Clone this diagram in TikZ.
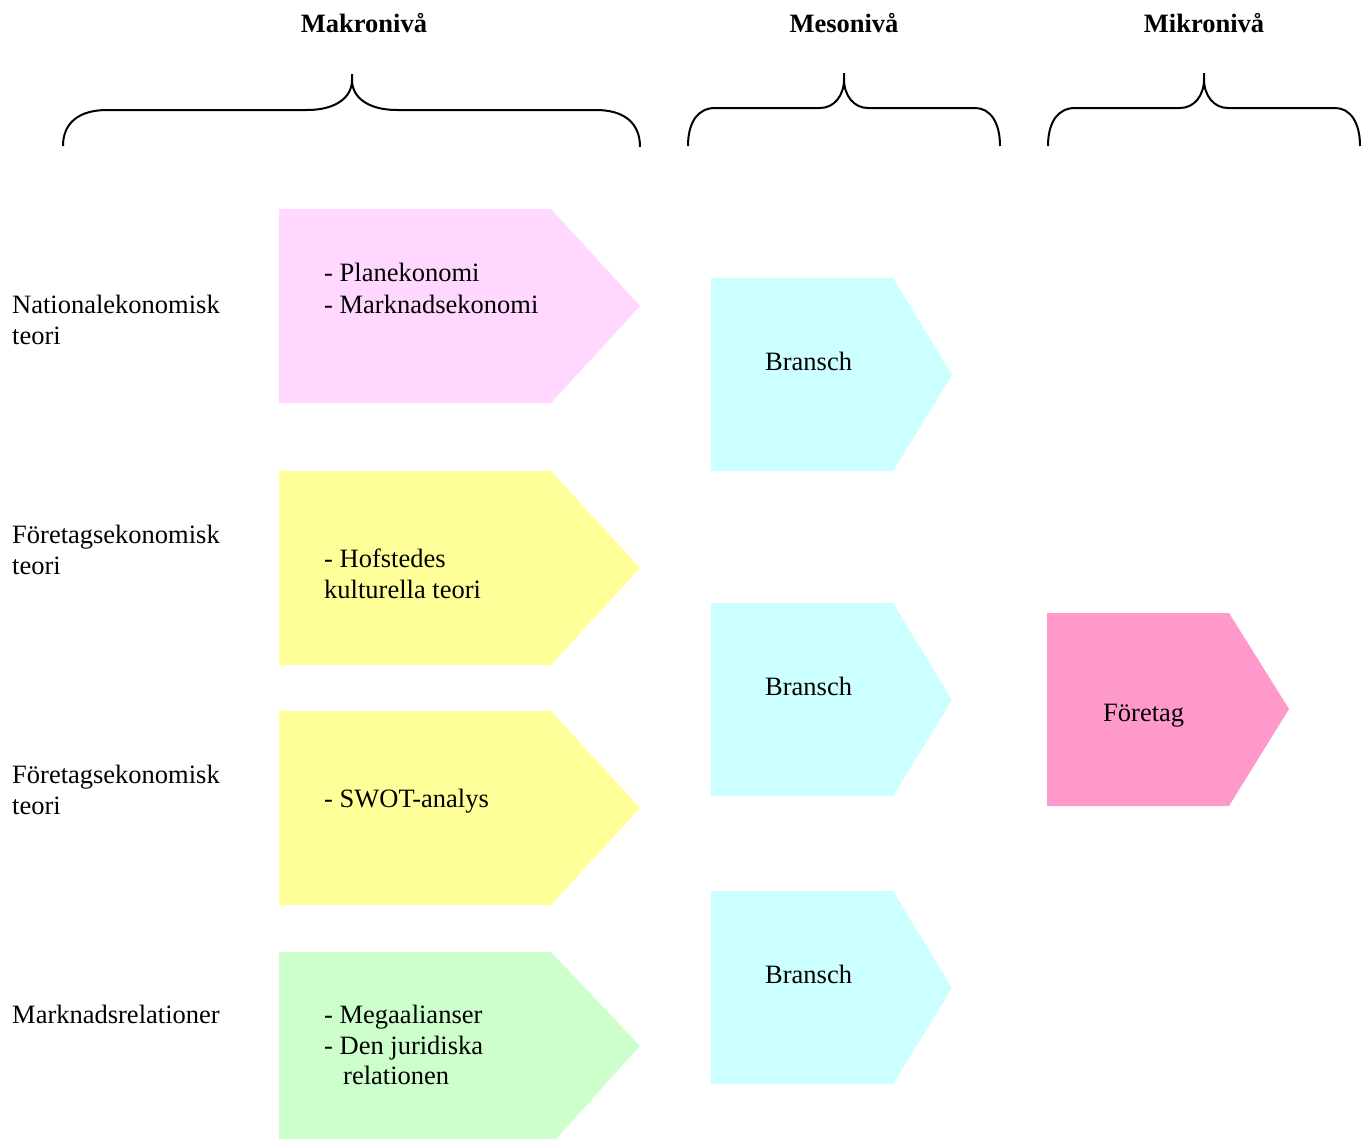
\documentclass[tikz,border=0pt]{standalone}
\usepackage{fontspec}
\setmainfont{Liberation Serif}
\definecolor{pinkbox}{HTML}{FFD7FF}
\definecolor{yellowbox}{HTML}{FFFF99}
\definecolor{greenbox}{HTML}{CCFFCC}
\definecolor{cyanbox}{HTML}{CCFFFF}
\definecolor{rosebox}{HTML}{FF99CC}
\begin{document}
\begin{tikzpicture}[x=1pt,y=-1pt,
  lbl/.style={anchor=base west, inner sep=0pt, font=\fontsize{26.5}{31}\selectfont},
  hdr/.style={anchor=base, inner sep=0pt, font=\fontsize{26.5}{31}\selectfont\bfseries},
  bracepath/.style={draw=black, line width=2pt},
  chevron/.style={draw=none}]
\useasboundingbox (0,0) rectangle (1367,1140);

% headers
\node[hdr] (hmakro) at (364,33) {Makronivå};
\node[hdr] (hmeso) at (844,33) {Mesonivå};
\node[hdr] (hmikro) at (1204,33) {Mikronivå};

% braces
\draw[bracepath] (63,146) .. controls (63,122) and (80,110) .. (107,110) -- (307,110)
  .. controls (335,110) and (352,98) .. (352,80) -- (352,74)
  (352,80) .. controls (352,98) and (369,110) .. (397,110) -- (596,110)
  .. controls (623,110) and (640,122) .. (640,147);
\draw[bracepath] (688,146) .. controls (688,122) and (698,108) .. (715,108) -- (820,108)
  .. controls (834,108) and (844,96) .. (844,79) -- (844,73)
  (844,79) .. controls (844,96) and (854,108) .. (868,108) -- (975,108)
  .. controls (990,108) and (1000,122) .. (1000,146);
\draw[bracepath] (1048,146) .. controls (1048,122) and (1058,108) .. (1075,108) -- (1180,108)
  .. controls (1194,108) and (1204,96) .. (1204,79) -- (1204,73)
  (1204,79) .. controls (1204,96) and (1214,108) .. (1228,108) -- (1335,108)
  .. controls (1350,108) and (1360,122) .. (1360,146);

% makro shapes
\fill[pinkbox] (279,209) -- (551,209) -- (640,306) -- (551,403) -- (279,403) -- cycle;
\fill[yellowbox] (279,471) -- (551,471) -- (640,568) -- (551,665) -- (279,665) -- cycle;
\fill[yellowbox] (279,711) -- (551,711) -- (640,808) -- (551,905) -- (279,905) -- cycle;
\fill[greenbox] (279,952) -- (551,952) -- (640,1046) -- (556,1139) -- (279,1139) -- cycle;

% meso shapes
\fill[cyanbox] (711,278) -- (893,278) -- (952,375) -- (893,471) -- (711,471) -- cycle;
\fill[cyanbox] (711,603) -- (893,603) -- (952,700) -- (893,796) -- (711,796) -- cycle;
\fill[cyanbox] (711,891) -- (893,891) -- (952,988) -- (893,1084) -- (711,1084) -- cycle;

% mikro shape
\fill[rosebox] (1047,613) -- (1229,613) -- (1289,709) -- (1229,806) -- (1047,806) -- cycle;

% left labels
\node[lbl] (l1a) at (12,313) {Nationalekonomisk};
\node[lbl] (l1b) at (12,344) {teori};
\node[lbl] (l2a) at (12,543) {Företagsekonomisk};
\node[lbl] (l2b) at (12,574) {teori};
\node[lbl] (l3a) at (12,783) {Företagsekonomisk};
\node[lbl] (l3b) at (12,814) {teori};
\node[lbl] (l4a) at (12,1023) {Marknadsrelationer};

% box texts
\node[lbl] (p1) at (324,281) {- Planekonomi};
\node[lbl] (p2) at (324,313) {- Marknadsekonomi};
\node[lbl] (y1) at (324,567) {- Hofstedes};
\node[lbl] (y2) at (324,598) {kulturella teori};
\node[lbl] (y3) at (324,807) {- SWOT-analys};
\node[lbl] (g1) at (324,1023) {- Megaalianser};
\node[lbl] (g2) at (324,1054) {- Den juridiska};
\node[lbl] (g3) at (343,1084) {relationen};

\node[lbl] (b1) at (765,370) {Bransch};
\node[lbl] (b2) at (765,695) {Bransch};
\node[lbl] (b3) at (765,983) {Bransch};
\node[lbl] (f1) at (1103,721) {Företag};
\end{tikzpicture}
\end{document}
